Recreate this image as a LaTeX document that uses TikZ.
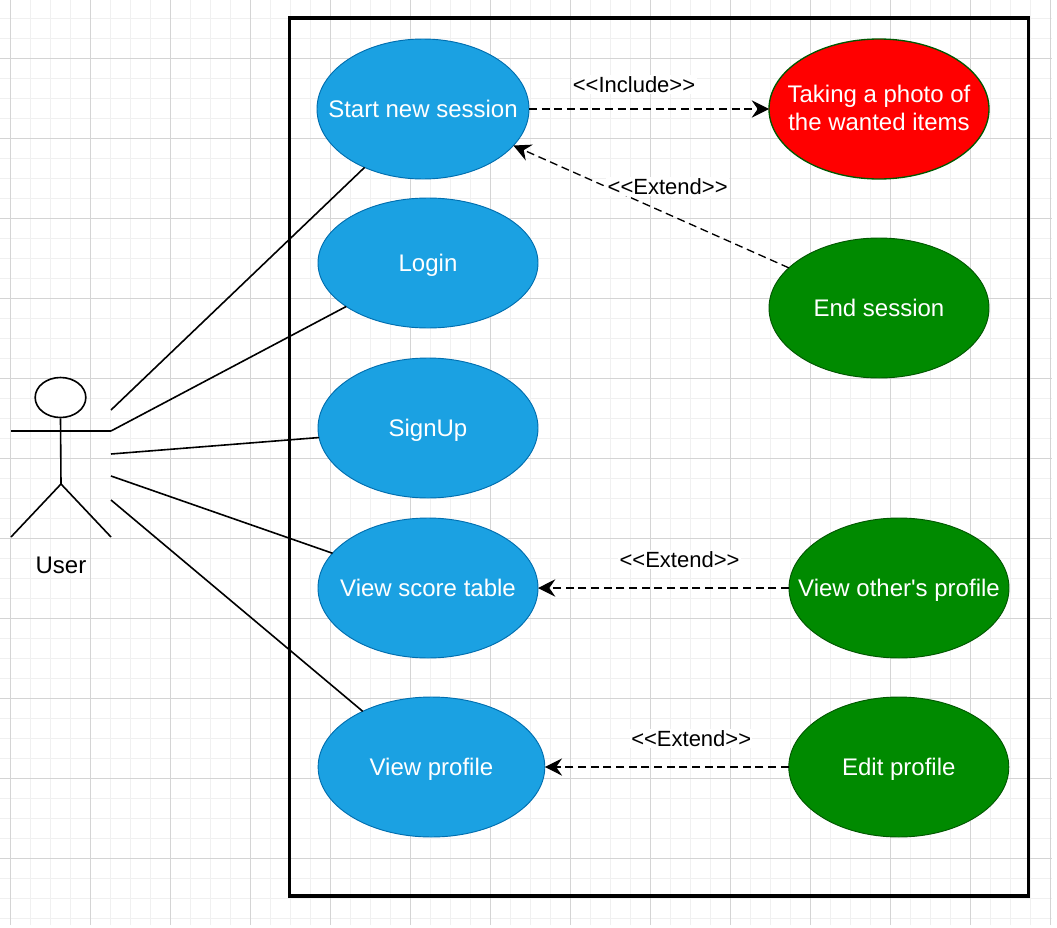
\documentclass[tikz,border=0pt]{standalone}
\usepackage{fontspec}
\setmainfont{Liberation Sans}
\usepackage{xcolor}
\usetikzlibrary{arrows.meta,positioning,shapes.geometric,backgrounds}
\definecolor{caseblue}{HTML}{1BA1E2}
\definecolor{caseblueline}{HTML}{006EAF}
\definecolor{casegreen}{HTML}{008A00}
\definecolor{casegreenline}{HTML}{005700}
\definecolor{gridmajor}{HTML}{D4D4D4}
\definecolor{gridminor}{HTML}{F0F0F0}
\newcommand{\casetext}[1]{\makebox[0pt]{#1}}

\begin{document}
\begin{tikzpicture}[
    x=0.75pt, y=-0.75pt,
    usecase/.style={draw, line width=0.7pt, ellipse, inner sep=0pt, outer sep=0pt, minimum width=165pt, minimum height=105pt, text=white, text height=12pt, text depth=0pt, font=\fontsize{18}{21}\selectfont},
    bluecase/.style={usecase, fill=caseblue, draw=caseblueline},
    greencase/.style={usecase, fill=casegreen, draw=casegreenline},
    actorline/.style={line width=1.2pt},
    assoc/.style={line width=1.2pt},
    arrow/.style={-{Stealth[length=13pt, width=13pt, inset=4.5pt]}, dash pattern=on 6pt off 3.5pt, line width=1pt},
    stereo/.style={fill=white, inner sep=1pt, font=\fontsize{16.5}{19}\selectfont}
]
\useasboundingbox (0,0) rectangle (1057,928);

% Grid paper
\foreach \gx in {10,30,...,1050} \draw[gridminor, line width=0.6pt] (\gx,0) -- (\gx,925);
\foreach \gy in {18,38,...,925} \draw[gridminor, line width=0.6pt] (0,\gy) -- (1052,\gy);
\foreach \gx in {10,90,...,1050} \draw[gridmajor, line width=0.6pt] (\gx,0) -- (\gx,925);
\foreach \gy in {58,138,...,925} \draw[gridmajor, line width=0.6pt] (0,\gy) -- (1052,\gy);

% System boundary
\node[draw, line width=2.6pt, minimum width=554pt, minimum height=658.5pt, inner sep=0pt] (system) at (659,457) {};

% Actor
\node[draw, ellipse, line width=1.2pt, fill=white, minimum width=38pt, minimum height=30pt, inner sep=0pt] (head) at (60.5,397.5) {};
\coordinate (hip) at (61,484);
\coordinate (armL) at (11,431);
\coordinate (armR) at (111,431);
\coordinate (footL) at (11,537);
\coordinate (footR) at (111,537);
\node[font=\fontsize{18}{21}\selectfont, below=51pt of hip] (user) {User};
\draw[actorline] (head.south) -- (hip);
\draw[actorline] (armL) -- (armR);
\draw[actorline] (footL) -- (hip) -- (footR);

% Cases of the user
\node[bluecase, minimum width=159pt] (start) at (423,109) {\casetext{Start new session}};
\node[bluecase, minimum height=97.5pt, below=14.25pt of start, xshift=3.75pt] (login) {\casetext{Login}};
\node[bluecase, below=22.5pt of login] (signup) {\casetext{SignUp}};
\node[bluecase, below=15pt of signup] (score) {\casetext{View score table}};
\node[bluecase, minimum width=170pt, below=29.25pt of score, xshift=2.6pt] (profile) {\casetext{View profile}};

% Cases on the right
\node[usecase, line width=1pt, fill=red, draw=casegreenline, text height=11pt, right=180pt of start] (photo) {\casetext{\begin{tabular}{@{}c@{}}Taking a photo of\\[0pt]the wanted items\end{tabular}}};
\node[greencase, below=44.25pt of photo] (end) {\casetext{End session}};
\node[greencase, right=188.25pt of score] (other) {\casetext{View other\textquotesingle s profile}};
\node[greencase, right=183pt of profile] (edit) {\casetext{Edit profile}};

% Free ends beside the actor
\coordinate (port1) at (111,410);
\coordinate (port2) at (111,431);
\coordinate (port3) at (111,454);
\coordinate (port4) at (111,476);
\coordinate (port5) at (111,500);

% Associations
\draw[assoc] (port1) -- (start.225);
\draw[assoc] (port2) -- (login.208);
\draw[assoc] (port3) -- (signup.185);
\draw[assoc] (port4) -- (score.160);
\draw[assoc] (port5) -- (profile.141);

% Dependencies
\draw[arrow] (start) -- (photo) node[pos=0.4375, stereo, above=11pt] {{<}{<}Include{>}{>}};
\draw[arrow] (end.156) -- (start.338) node[pos=0.44, stereo, above=13pt] (extA) {{<}{<}Extend{>}{>}};
\draw[arrow] (other) -- (score) node[pos=0.436, stereo, above=14pt] {{<}{<}Extend{>}{>}};
\draw[arrow] (edit) -- (profile) node[pos=0.4, stereo, above=14pt] {{<}{<}Extend{>}{>}};

\end{tikzpicture}
\end{document}
